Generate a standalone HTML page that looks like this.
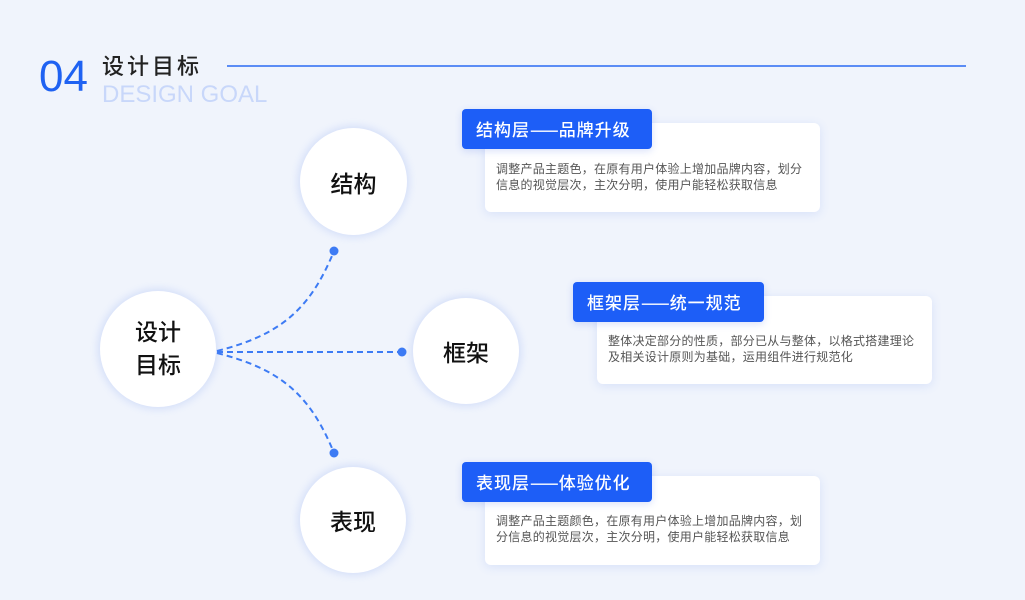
<!DOCTYPE html>
<html><head><meta charset="utf-8"><style>
html,body{margin:0;padding:0;}
body{width:1025px;height:600px;background:#f0f4fc;position:relative;overflow:hidden;font-family:"Liberation Sans","Noto Sans CJK SC",sans-serif;}
.abs{position:absolute;}
.num{left:39px;top:52px;font-size:44px;color:#1f62f2;line-height:50px;font-family:"Liberation Sans",sans-serif;}
.title{left:102px;top:53px;font-size:22px;letter-spacing:3px;color:#222;font-weight:500;line-height:28px;font-family:"Liberation Sans","Noto Sans CJK SC",sans-serif;}
.en{left:102px;top:81px;font-size:24px;color:#c8d7fa;line-height:28px;font-family:"Liberation Sans",sans-serif;}
.hline{left:227px;top:65px;width:739px;height:2px;background:#5b8cf5;}
.circ{background:#fff;border-radius:50%;box-shadow:0 0 8px 2px rgba(110,145,240,0.22);display:flex;align-items:center;justify-content:center;text-align:center;color:#111;font-weight:500;font-size:23px;font-family:"Liberation Sans","Noto Sans CJK SC",sans-serif;}
.card{background:#fff;border-radius:6px;box-shadow:0 2px 10px rgba(90,130,235,0.16);}
.tag{background:#1d5ef7;border-radius:4px;color:#fff;font-size:17px;font-weight:500;letter-spacing:1px;line-height:40px;height:40px;padding-left:14px;box-sizing:border-box;box-shadow:0 2px 8px rgba(60,100,230,0.2);font-family:"Liberation Sans","Noto Sans CJK SC",sans-serif;white-space:nowrap;}
.dash{font-family:"Noto Sans CJK SC",sans-serif;letter-spacing:0;}
.body{font-size:12px;line-height:16px;color:#555;letter-spacing:0.25px;white-space:nowrap;font-family:"Liberation Sans","Noto Sans CJK SC",sans-serif;}
</style></head><body>
<div class="abs num">04</div>
<div class="abs title">设计目标</div>
<div class="abs en">DESIGN GOAL</div>
<div class="abs hline"></div>

<svg class="abs" style="left:0;top:0" width="1025" height="600">
<g fill="none" stroke="#3d7bf4" stroke-width="2" stroke-dasharray="6 4">
<path d="M217,351 C280,335 310,310 334,251"/>
<path d="M217,352 L402,352"/>
<path d="M217,353 C280,369 310,394 334,453"/>
</g>
<g fill="#3d7bf4">
<circle cx="334" cy="251" r="4.5"/>
<circle cx="402" cy="352" r="4.5"/>
<circle cx="334" cy="453" r="4.5"/>
</g>
</svg>

<div class="abs circ" style="left:100px;top:291px;width:116px;height:116px;line-height:33px;">设计<br>目标</div>
<div class="abs circ" style="left:300px;top:128px;width:107px;height:107px;">结构</div>
<div class="abs circ" style="left:413px;top:298px;width:106px;height:106px;">框架</div>
<div class="abs circ" style="left:300px;top:467px;width:106px;height:106px;">表现</div>

<div class="abs card" style="left:485px;top:123px;width:335px;height:89px;"></div>
<div class="abs tag" style="left:462px;top:109px;width:190px;">结构层<span class="dash">——</span>品牌升级</div>
<div class="abs body" style="left:496px;top:161px;">调整产品主题色，在原有用户体验上增加品牌内容，划分<br>信息的视觉层次，主次分明，使用户能轻松获取信息</div>

<div class="abs card" style="left:597px;top:296px;width:335px;height:88px;"></div>
<div class="abs tag" style="left:573px;top:282px;width:191px;">框架层<span class="dash">——</span>统一规范</div>
<div class="abs body" style="left:608px;top:333px;">整体决定部分的性质，部分已从与整体，以格式搭建理论<br>及相关设计原则为基础，运用组件进行规范化</div>

<div class="abs card" style="left:485px;top:476px;width:335px;height:89px;"></div>
<div class="abs tag" style="left:462px;top:462px;width:190px;">表现层<span class="dash">——</span>体验优化</div>
<div class="abs body" style="left:496px;top:513px;">调整产品主题颜色，在原有用户体验上增加品牌内容，划<br>分信息的视觉层次，主次分明，使用户能轻松获取信息</div>
</body></html>
